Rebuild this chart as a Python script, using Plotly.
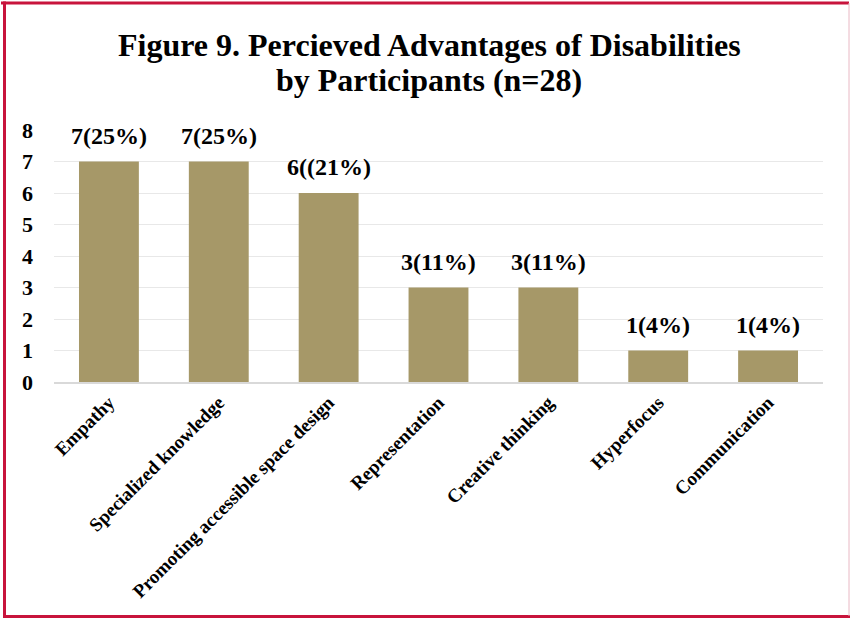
import plotly.graph_objects as go

categories = ["Empathy", "Specialized knowledge", "Promoting accessible space design",
              "Representation", "Creative thinking", "Hyperfocus", "Communication"]
counts = [7, 7, 6, 3, 3, 1, 1]
labels = ["7(25%)", "7(25%)", "6((21%)", "3(11%)", "3(11%)", "1(4%)", "1(4%)"]
y_ticks = [0, 1, 2, 3, 4, 5, 6, 7, 8]
title_lines = ["Figure 9. Percieved Advantages of Disabilities", "by Participants (n=28)"]

W, H = 850, 618
L, R, T, B = 54, 27, 130, 236
pw, ph = W - L - R, H - T - B

def px(x):
    return (x - L) / pw

def py(y):
    return (H - B - y) / ph

serif = "Liberation Serif"

fig = go.Figure()
fig.add_trace(go.Bar(
    x=categories, y=counts, marker=dict(color="#A69868", line=dict(width=0)),
    width=0.545, showlegend=False,
))
for c, v, t in zip(categories, counts, labels):
    fig.add_annotation(x=c, y=v, text="<b>" + t + "</b>", showarrow=False, yanchor="bottom", yshift=11,
                       font=dict(family=serif, size=24, color="#000000"))

for i, line in enumerate(title_lines):
    fig.add_annotation(xref="paper", yref="paper", x=px(429), y=py(45 + 35 * i), text="<b>" + line + "</b>",
                       showarrow=False, xanchor="center", yanchor="middle",
                       font=dict(family=serif, size=32, color="#000000"))

border = "#C8143C"
fig.add_shape(type="line", xref="paper", yref="paper", x0=px(1), x1=px(849), y0=py(3), y1=py(3),
              line=dict(color=border, width=3))
fig.add_shape(type="line", xref="paper", yref="paper", x0=px(4.5), x1=px(4.5), y0=py(1.5), y1=py(616.5),
              line=dict(color=border, width=3))
fig.add_shape(type="line", xref="paper", yref="paper", x0=px(3), x1=px(850), y0=py(616.5), y1=py(616.5),
              line=dict(color=border, width=3))
fig.add_shape(type="line", xref="paper", yref="paper", x0=px(849), x1=px(849), y0=py(3), y1=py(616),
              line=dict(color="#E9B8C4", width=1))

fig.update_layout(
    width=W, height=H,
    margin=dict(l=L, r=R, t=T, b=B),
    paper_bgcolor="white", plot_bgcolor="white",
    bargap=0.455,
    xaxis=dict(tickangle=-45, showgrid=False, showline=True, linecolor="#D9D9D9", linewidth=2,
               ticks="", tickfont=dict(family=serif, size=19, color="#000000", weight="bold"),
               range=[-0.5, len(categories) - 0.5]),
    yaxis=dict(range=[0, 8], tickvals=y_ticks, showgrid=True, gridcolor="#E8E8E8", gridwidth=1,
               zeroline=False, showline=False, ticks="", ticklabelstandoff=20,
               tickfont=dict(family=serif, size=22, color="#000000", weight="bold")),
)

fig.write_html("out.html")
